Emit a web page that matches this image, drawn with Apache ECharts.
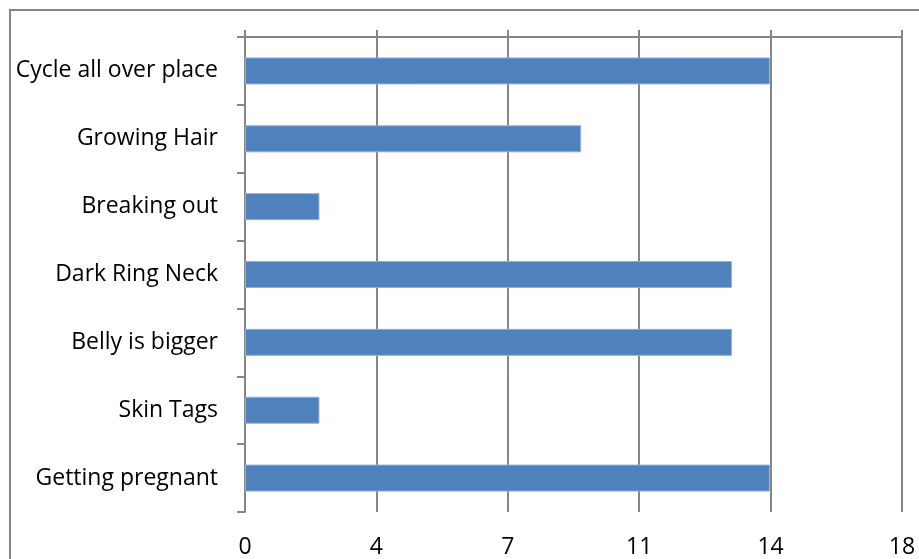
<!DOCTYPE html>
<html>
<head>
<meta charset="utf-8">
<script src="https://cdn.jsdelivr.net/npm/echarts@6/dist/echarts.min.js"></script>
<style>
html, body { margin: 0; padding: 0; background: #fff; }
#main { width: 919px; height: 559px; }
</style>
</head>
<body>
<div id="main"></div>
<script>
var categories = ['Cycle all over place', 'Growing Hair', 'Breaking out', 'Dark Ring Neck',
                  'Belly is bigger', 'Skin Tags', 'Getting pregnant'];
var values = [14.38, 9.21, 2.04, 13.34, 13.34, 2.04, 14.38];
var axisMin = 0;
var axisMax = 18;
var axisStep = 3.6;

var chart = echarts.init(document.getElementById('main'));
var lineColor = '#868686';
var fontName = '"Open Sans", "Noto Sans", sans-serif';

var option = {
    animation: false,
    graphic: [{
        type: 'rect',
        shape: { x: 10, y: 10, width: 1200, height: 1200 },
        style: { fill: 'none', stroke: lineColor, lineWidth: 2 }
    }],
    grid: {
        left: 245,
        right: 17,
        top: 37,
        bottom: 46
    },
    xAxis: [
        {
            type: 'value',
            position: 'bottom',
            min: axisMin,
            max: axisMax,
            interval: axisStep,
            axisLine: { show: false },
            axisTick: { show: false },
            splitLine: { show: true, lineStyle: { color: lineColor, width: 2 } },
            axisLabel: {
                margin: 24,
                fontSize: 23,
                color: '#000',
                fontFamily: fontName,
                formatter: function (v) { return String(Math.round(v)); }
            }
        },
        {
            type: 'value',
            position: 'top',
            min: axisMin,
            max: axisMax,
            interval: axisStep,
            axisLine: { show: true, lineStyle: { color: lineColor, width: 2 } },
            axisTick: { show: true, length: 7, lineStyle: { color: lineColor, width: 2 } },
            splitLine: { show: false },
            axisLabel: { show: false }
        }
    ],
    yAxis: {
        type: 'category',
        inverse: true,
        data: categories,
        axisLine: { show: true, lineStyle: { color: lineColor, width: 2 } },
        axisTick: { show: true, length: 8, lineStyle: { color: lineColor, width: 2 } },
        axisLabel: {
            margin: 27,
            fontSize: 23,
            color: '#000',
            fontFamily: fontName
        }
    },
    series: [{
        type: 'bar',
        data: values,
        barWidth: 27,
        itemStyle: {
            color: '#4F81BD',
            borderColor: '#8EB0DA',
            borderWidth: 1
        }
    }]
};
chart.setOption(option);
</script>
</body>
</html>
